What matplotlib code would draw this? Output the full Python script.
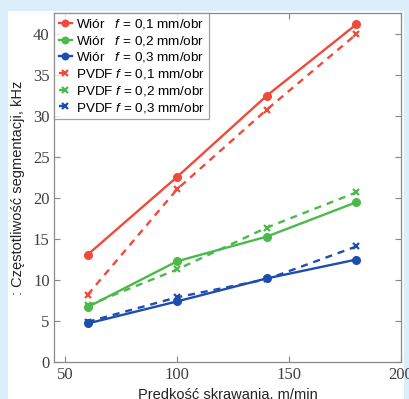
import matplotlib.pyplot as plt
from matplotlib.patches import Rectangle

plt.rcParams['mathtext.fontset'] = 'custom'
plt.rcParams['mathtext.it'] = 'Liberation Sans:italic'
plt.rcParams['mathtext.rm'] = 'Liberation Sans'

speed = [60, 100, 140, 180]
chip_01 = [13.1, 22.6, 32.5, 41.2]
chip_02 = [6.7, 12.3, 15.3, 19.5]
chip_03 = [4.7, 7.4, 10.2, 12.5]
pvdf_01 = [8.2, 21.1, 30.8, 40.0]
pvdf_02 = [6.9, 11.3, 16.4, 20.7]
pvdf_03 = [4.9, 7.9, 10.1, 14.1]
feeds = ['0,1', '0,2', '0,3']

red = '#ef4a3a'
green = '#4cba4a'
blue = '#1e4db0'

fig = plt.figure(figsize=(4.1, 3.99), dpi=100, facecolor='#dceefa')
fig.patches.append(Rectangle((8 / 410, 0), (404 - 8) / 410, (399 - 11) / 399,
                             transform=fig.transFigure, facecolor='white',
                             edgecolor='none', zorder=-10))
ax = fig.add_axes([54.5 / 410, 37 / 399, (401 - 54.5) / 410, (362 - 13) / 399])
ax.set_zorder(2)

for y, c, fv in zip([chip_01, chip_02, chip_03], [red, green, blue], feeds):
    ax.plot(speed, y, '-', color=c, lw=1.7, marker='o', ms=5.5,
            label='Wiór   $f$ = ' + fv + ' mm/obr')
for y, c, fv in zip([pvdf_01, pvdf_02, pvdf_03], [red, green, blue], feeds):
    ax.plot(speed, y, '--', color=c, lw=1.7, marker='x', ms=5, mew=1.6,
            dashes=(3, 2.5), label='PVDF $f$ = ' + fv + ' mm/obr')

ax.set_xlim(45.2, 200)
ax.set_ylim(0, 42.6)
ax.set_xticks([50, 100, 150, 200])
ax.set_yticks(range(0, 41, 5))
ax.tick_params(direction='in', length=4, width=0.8, color='#888888',
               top=True, right=True, labelsize=12, labelcolor='#404040',
               labelfontfamily='Liberation Serif')
for s in ax.spines.values():
    s.set_color('#8a8a8a')
    s.set_linewidth(0.9)

ax.set_xlabel('Predkość skrawania, m/min', family='Liberation Sans',
              fontsize=10.5, color='#222222', labelpad=4)
ax.set_ylabel(': Częstotliwość segmentacji, kHz', family='Liberation Sans',
              fontsize=10.5, color='#222222', labelpad=6)

leg = ax.legend(loc='upper left', borderaxespad=0, fancybox=False,
                prop={'family': 'Liberation Sans', 'size': 9.7},
                handlelength=1.0, handletextpad=0.3, labelspacing=0.2,
                borderpad=0.3, markerscale=0.85)
leg.get_frame().set_edgecolor('#8a8a8a')
leg.get_frame().set_linewidth(0.9)

fig.savefig('out.png', dpi=100, facecolor=fig.get_facecolor())
